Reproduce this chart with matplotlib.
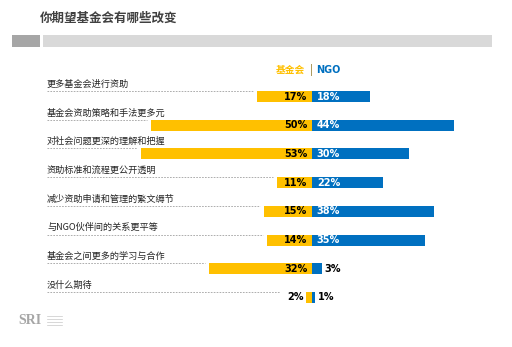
import matplotlib.pyplot as plt
from matplotlib.patches import Rectangle

plt.rcParams['font.family'] = ['Noto Sans CJK SC', 'DejaVu Sans']

categories = ['更多基金会进行资助', '基金会资助策略和手法更多元', '对社会问题更深的理解和把握',
              '资助标准和流程更公开透明', '减少资助申请和管理的繁文缛节', '与NGO伙伴间的关系更平等',
              '基金会之间更多的学习与合作', '没什么期待']
foundation = [17, 50, 53, 11, 15, 14, 32, 2]
ngo = [18, 44, 30, 22, 38, 35, 3, 1]

yellow = '#FFC000'
blue = '#0070C0'

W, H = 512, 347
fig = plt.figure(figsize=(W / 100, H / 100), dpi=100)
ax = fig.add_axes([0, 0, 1, 1])

# pixel mapping: x=0 at px 312, 3.22 px per %, rows every 28.7 px starting at 96.5
px_per = 3.22
x0 = 312
row0, row_h = 96.5, 28.7
ax.set_xlim(-x0 / px_per, (W - x0) / px_per)
ax.set_ylim((H - row0) / row_h, -row0 / row_h)
ax.axis('off')

def px(x):
    return (x - x0) / px_per

def py(y):
    return (y - row0) / row_h

# title and header bars
ax.text(px(40), py(18), '你期望基金会有哪些改变', fontsize=9, fontweight='bold',
        color='#404040', va='center', ha='left')
ax.add_patch(Rectangle((px(12), py(35)), px(40) - px(12), py(47) - py(35), color='#a6a6a6', lw=0))
ax.add_patch(Rectangle((px(43), py(35)), px(492) - px(43), py(47) - py(35), color='#d9d9d9', lw=0))

# legend
ax.text(px(305), py(70), '基金会', color=yellow, fontsize=7, fontweight='bold', ha='right', va='center')
ax.text(px(311), py(70), '|', color='#7f6000', fontsize=7, ha='center', va='center')
ax.text(px(316), py(70), 'NGO', color=blue, fontsize=7, fontweight='bold', ha='left', va='center',
        family='DejaVu Sans')

ys = range(len(categories))
bh = 11 / row_h
ax.barh(ys, [-v for v in foundation], height=bh, color=yellow)
ax.barh(ys, ngo, height=bh, color=blue)

for i, (cat, f, n) in enumerate(zip(categories, foundation, ngo)):
    ax.text(px(47), i - 0.43, cat, fontsize=6.6, color='#262626', ha='left', va='center')
    end = -f - 1.2 if f >= 5 else -f - 8
    ax.plot([px(47), end], [i - 0.19, i - 0.19], ls=(0, (2, 1.5)), lw=0.6, color='#a0a0a0')
    if f >= 5:
        ax.text(-1.5, i, f'{f}%', fontsize=7, fontweight='bold', color='black',
                ha='right', va='center', family='DejaVu Sans')
    else:
        ax.text(-f - 0.6, i, f'{f}%', fontsize=7, fontweight='bold', color='black',
                ha='right', va='center', family='DejaVu Sans')
    if n >= 5:
        ax.text(1.5, i, f'{n}%', fontsize=7, fontweight='bold', color='white',
                ha='left', va='center', family='DejaVu Sans')
    else:
        ax.text(n + 0.8, i, f'{n}%', fontsize=7, fontweight='bold', color='black',
                ha='left', va='center', family='DejaVu Sans')

# SRI logo
ax.text(px(18), py(320), 'SRI', fontsize=10, color='#a6a6a6', family='Liberation Serif',
        fontweight='bold', ha='left', va='center')
for yy in (316, 319, 322, 325):
    ax.plot([px(47), px(62)], [py(yy), py(yy)], lw=0.5, color='#c8c8c8')

fig.savefig('out.png', dpi=100)
